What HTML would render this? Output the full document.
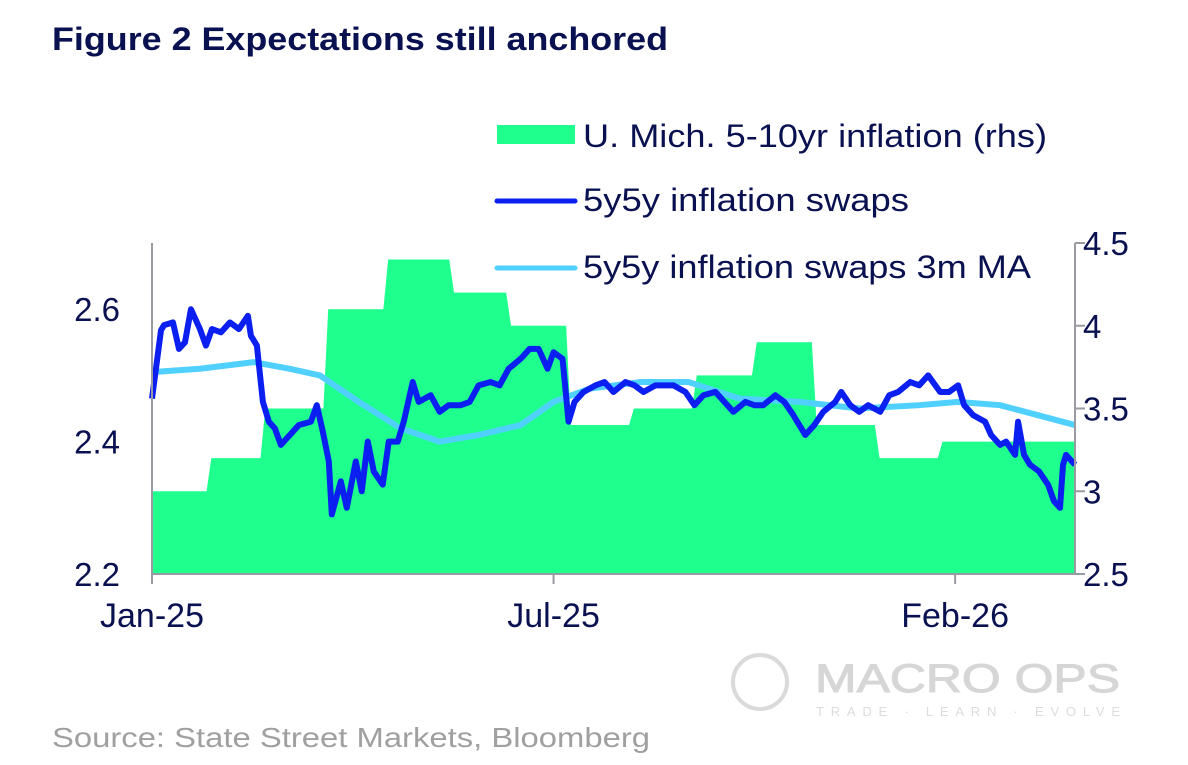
<!DOCTYPE html>
<html><head><meta charset="utf-8"><style>
html,body{margin:0;padding:0;background:#fff;}
body{width:1188px;height:760px;overflow:hidden;position:relative;font-family:"Liberation Sans",Arial,sans-serif;}
</style></head><body>
<svg id="chart" width="1188" height="760" viewBox="0 0 1188 760" xmlns="http://www.w3.org/2000/svg" font-family="Liberation Sans, Arial, sans-serif">
<text x="52" y="50" font-size="32" font-weight="bold" fill="#0a1150" textLength="616" lengthAdjust="spacingAndGlyphs">Figure 2 Expectations still anchored</text>
<g id="plot"></g>
<g>
 <rect x="497" y="125" width="78" height="19" fill="#1eff8e"/>
 <text x="583" y="147" font-size="32" fill="#0a1150" textLength="464" lengthAdjust="spacingAndGlyphs">U. Mich. 5-10yr inflation (rhs)</text>
 <line x1="497" y1="201" x2="575" y2="201" stroke="#0a1ff0" stroke-width="5" stroke-linecap="round"/>
 <text x="583" y="211" font-size="32" fill="#0a1150" textLength="326" lengthAdjust="spacingAndGlyphs">5y5y inflation swaps</text>
 <line x1="497" y1="268" x2="575" y2="268" stroke="#4fd0ff" stroke-width="5" stroke-linecap="round"/>
 <text x="583" y="278" font-size="32" fill="#0a1150" textLength="448" lengthAdjust="spacingAndGlyphs">5y5y inflation swaps 3m MA</text>
</g>
<g>
 <circle cx="760" cy="682" r="27" fill="none" stroke="#dadada" stroke-width="4"/>
 <text x="815" y="692" font-size="40" fill="#d6d6d6" stroke="#d6d6d6" stroke-width="1" textLength="305" lengthAdjust="spacingAndGlyphs">MACRO OPS</text>
 <text x="816" y="716" font-size="13" fill="#dcdcdc" textLength="304" lengthAdjust="spacing">TRADE · LEARN · EVOLVE</text>
</g>
<text x="52" y="747" font-size="28" fill="#a0a0a0" textLength="598" lengthAdjust="spacingAndGlyphs">Source: State Street Markets, Bloomberg</text>
</svg>
<script>
// survey (rhs): month boundaries in trading days and values
const surveyBounds = [0,19,37,58,78,100,119,139,160,181,201,221,242,263,283,308];
const surveyValues = [3.0,3.2,3.5,4.1,4.4,4.2,4.0,3.4,3.5,3.7,3.9,3.4,3.2,3.3,3.3];
// 5y5y swaps
const swapDays = [0,3,4,7,9,11,13,16,18,20,23,26,29,32,33,35,37,39,41,43,46,49,53,55,57,59,60,63,65,68,70,72,74,77,79,82,84,87,89,93,96,99,103,106,109,113,116,119,123,126,129,132,134,137,139,141,144,148,151,154,158,161,164,168,171,174,178,181,184,188,191,194,198,201,204,208,211,214,218,221,224,228,230,233,236,239,243,246,249,253,256,259,263,266,269,271,274,278,280,283,285,288,289,291,293,296,299,301,303,304,305,308];
const swapValues = [2.465,2.568,2.576,2.58,2.54,2.55,2.60,2.57,2.545,2.57,2.565,2.58,2.57,2.59,2.56,2.545,2.46,2.43,2.42,2.395,2.41,2.425,2.43,2.455,2.415,2.37,2.29,2.34,2.30,2.37,2.325,2.40,2.355,2.335,2.40,2.40,2.43,2.49,2.46,2.47,2.445,2.455,2.455,2.46,2.485,2.49,2.485,2.51,2.525,2.54,2.54,2.51,2.535,2.525,2.43,2.46,2.475,2.485,2.49,2.475,2.49,2.485,2.475,2.485,2.485,2.485,2.475,2.455,2.47,2.475,2.46,2.445,2.46,2.455,2.455,2.47,2.46,2.44,2.41,2.425,2.445,2.46,2.475,2.455,2.445,2.455,2.445,2.47,2.475,2.49,2.485,2.50,2.475,2.475,2.485,2.455,2.44,2.43,2.41,2.395,2.40,2.38,2.43,2.38,2.365,2.355,2.335,2.31,2.30,2.365,2.38,2.365];
// 3m MA
const maDays = [0,16,34,46,56,69,83,96,109,123,134,146,163,179,196,216,236,256,269,283,308];
const maValues = [2.505,2.51,2.52,2.51,2.50,2.46,2.42,2.40,2.41,2.425,2.46,2.48,2.49,2.49,2.465,2.46,2.45,2.455,2.46,2.455,2.425];
const leftTicks = [2.2,2.4,2.6];
const rightTicks = [2.5,3,3.5,4,4.5];
const xTickLabels = ["Jan-25","Jul-25","Feb-26"];
const xTickDays = [0,134,268];

const X0=152,X1=1075,YB=574,YT=243,DMAX=308;
const xS=d=>X0+(d/DMAX)*(X1-X0);
const yL=v=>YB-(v-2.2)/0.5*(YB-YT);
const yR=v=>YB-(v-2.5)/2*(YB-YT);
const NS='http://www.w3.org/2000/svg';
const plot=document.getElementById('plot');
function mk(tag,attrs){const e=document.createElementNS(NS,tag);for(const k in attrs)e.setAttribute(k,attrs[k]);plot.appendChild(e);return e;}

// survey area
let pts=[[xS(0),YB]];
for(let i=0;i<surveyValues.length;i++){
  const a=surveyBounds[i],b=surveyBounds[i+1];
  const s=i===0?0:0.8, e=i===surveyValues.length-1?0:0.8;
  pts.push([xS(a+s),yR(surveyValues[i])]);
  pts.push([xS(b-e),yR(surveyValues[i])]);
}
pts.push([xS(DMAX),YB]);
const area=mk('polygon',{points:pts.map(p=>p.join(',')).join(' '),fill:'#1eff8e'});



// MA line
const ma=mk('polyline',{points:maDays.map((d,i)=>xS(d)+','+yL(maValues[i])).join(' '),fill:'none',stroke:'#4fd0ff','stroke-width':6,'stroke-linejoin':'round'});



// swaps line
const n=Math.min(swapDays.length,swapValues.length);
let sp=[];for(let i=0;i<n;i++)sp.push(xS(swapDays[i])+','+yL(swapValues[i]));
const sw=mk('polyline',{points:sp.join(' '),fill:'none',stroke:'#0a1ff0','stroke-width':6,'stroke-linejoin':'round'});



// axes
const ax=mk('path',{d:`M${X0},${YT}V${YB}H${X1}V${YT}`,fill:'none',stroke:'#9a9aa2','stroke-width':2});


leftTicks.forEach(v=>{
  const t=mk('text',{x:120,y:yL(v)+12,'font-size':33,fill:'#0a1150','text-anchor':'end'});t.textContent=v.toFixed(1);
  
  
});
rightTicks.forEach(v=>{
  const l=mk('line',{x1:X1,x2:X1+10,y1:yR(v),y2:yR(v),stroke:'#9a9aa2','stroke-width':2});
  
  
  const t=mk('text',{x:1083,y:yR(v)+12,'font-size':33,fill:'#0a1150'});t.textContent=String(v);
  
  
});
xTickDays.forEach((d,i)=>{
  const l=mk('line',{x1:xS(d),x2:xS(d),y1:YB,y2:YB+10,stroke:'#9a9aa2','stroke-width':2});
  
  
  const t=mk('text',{x:xS(d),y:627,'font-size':34,fill:'#0a1150','text-anchor':'middle'});t.textContent=xTickLabels[i];
  
  
});
</script>
</body></html>
